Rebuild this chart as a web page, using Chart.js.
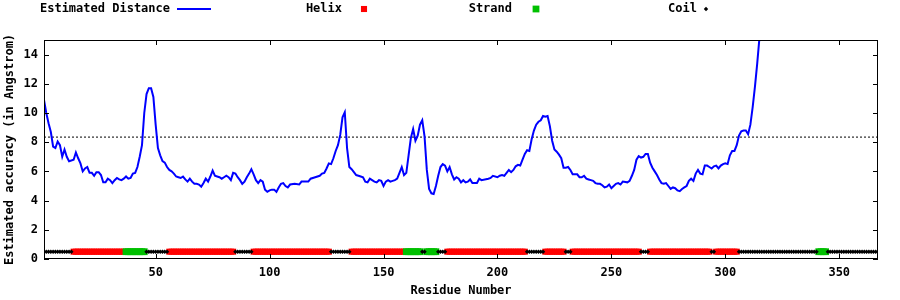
<!DOCTYPE html>
<html>
<head>
<meta charset="utf-8">
<script src="https://cdn.jsdelivr.net/npm/chart.js@4.4.1/dist/chart.umd.min.js"></script>
<style>
  html, body { margin: 0; padding: 0; background: #fff; }
  canvas { display: block; }
</style>
</head>
<body>
<canvas id="accuracyChart" width="900" height="300"></canvas>
<script>
// estimated distance per residue
const residues = [
  1, 2, 3, 4, 5, 6, 7, 8, 9, 10, 11, 12, 14, 15, 16, 17, 18, 19, 20, 21, 22, 23, 24, 25, 26, 27, 28, 29, 30,
  31, 32, 33, 34, 35, 36, 37, 38, 39, 40, 41, 42, 43, 44, 45, 46, 47, 48, 49, 50, 51, 52, 53, 54, 55, 56, 57, 58, 59, 60,
  61, 62, 63, 64, 65, 66, 67, 68, 69, 70, 71, 72, 73, 74, 75, 76, 77, 78, 79, 80, 81, 82, 83, 84, 85, 86, 87, 88, 89, 90,
  91, 92, 93, 94, 95, 96, 97, 98, 99, 100, 101, 102, 103, 104, 105, 106, 107, 108, 109, 111, 113, 114, 117, 118, 120,
  122, 123, 124, 125, 126, 127, 128, 129, 130, 131, 132, 133, 134, 135, 136, 137, 138, 139, 140, 141, 142, 143, 144, 145,
  146, 147, 148, 149, 150, 151, 152, 153, 154, 155, 156, 157, 158, 159, 160, 161, 162, 163, 164, 165, 166, 167, 168, 169,
  170, 171, 172, 173, 174, 175, 176, 177, 178, 179, 180, 181, 182, 183, 184, 185, 186, 187, 188, 189, 191, 192, 193, 196,
  197, 198, 200, 201, 202, 203, 204, 205, 206, 207, 208, 209, 210, 211, 212, 213, 214, 215, 216, 217, 218, 219, 220, 221,
  222, 223, 224, 225, 226, 227, 228, 229, 230, 231, 232, 233, 234, 235, 236, 237, 238, 239, 240, 241, 242, 243, 244, 245,
  246, 247, 248, 249, 250, 251, 252, 253, 254, 255, 257, 258, 259, 260, 261, 262, 263, 264, 265, 266, 267, 268, 269, 270,
  271, 272, 273, 274, 275, 276, 277, 278, 279, 280, 281, 282, 283, 284, 285, 286, 287, 288, 289, 290, 291, 292, 293, 294,
  295, 296, 297, 298, 299, 300, 301, 302, 303, 304, 305, 306, 307, 308, 309, 310, 311, 312, 313, 314, 315, 316
];
const estDistance = [
  10.9, 10.0, 9.3, 8.7, 7.7, 7.6, 8.05, 7.8, 7.0, 7.5, 7.0, 6.7, 6.8, 7.3, 6.9, 6.55, 6.0, 6.2, 6.3, 5.9, 5.9, 5.7, 5.95, 5.95, 5.75, 5.25, 5.25, 5.5, 5.4,
  5.2, 5.4, 5.55, 5.45, 5.4, 5.5, 5.65, 5.5, 5.55, 5.85, 5.9, 6.3, 7.0, 7.8, 10.0, 11.3, 11.7, 11.7, 11.1, 9.2, 7.6, 7.1, 6.7, 6.6, 6.3, 6.1, 6.0, 5.85, 5.65, 5.6,
  5.55, 5.65, 5.45, 5.3, 5.5, 5.3, 5.15, 5.15, 5.1, 4.95, 5.2, 5.5, 5.3, 5.65, 6.05, 5.7, 5.65, 5.6, 5.5, 5.6, 5.7, 5.6, 5.4, 5.9, 5.85, 5.6, 5.4, 5.15, 5.3, 5.6,
  5.85, 6.15, 5.8, 5.4, 5.2, 5.4, 5.3, 4.75, 4.6, 4.7, 4.75, 4.75, 4.6, 4.9, 5.15, 5.2, 5.0, 4.9, 5.1, 5.15, 5.1, 5.3, 5.3, 5.5, 5.6,
  5.7, 5.85, 5.9, 6.2, 6.55, 6.5, 6.9, 7.4, 7.8, 8.5, 9.7, 10.05, 7.6, 6.3, 6.15, 5.95, 5.75, 5.7, 5.65, 5.6, 5.3, 5.25, 5.5, 5.4,
  5.3, 5.25, 5.4, 5.35, 5.0, 5.3, 5.4, 5.3, 5.35, 5.4, 5.5, 5.9, 6.3, 5.75, 5.9, 7.1, 8.3, 8.9, 8.1, 8.45, 9.2, 9.5, 8.4, 6.1,
  4.8, 4.5, 4.45, 5.0, 5.7, 6.3, 6.5, 6.4, 6.0, 6.3, 5.8, 5.45, 5.6, 5.5, 5.25, 5.4, 5.25, 5.3, 5.45, 5.2, 5.2, 5.5, 5.4, 5.5,
  5.55, 5.7, 5.6, 5.7, 5.75, 5.7, 5.9, 6.1, 5.95, 6.1, 6.35, 6.45, 6.4, 6.8, 7.2, 7.45, 7.4, 8.2, 8.8, 9.2, 9.4, 9.5, 9.8, 9.75,
  9.8, 9.1, 8.1, 7.5, 7.35, 7.15, 6.9, 6.25, 6.25, 6.3, 6.1, 5.8, 5.8, 5.8, 5.6, 5.6, 5.7, 5.5, 5.45, 5.4, 5.35, 5.2, 5.15, 5.15,
  5.05, 4.9, 4.95, 5.1, 4.85, 5.0, 5.15, 5.2, 5.1, 5.3, 5.25, 5.35, 5.7, 6.1, 6.8, 7.05, 6.95, 7.0, 7.2, 7.2, 6.6, 6.25, 6.0, 5.75,
  5.45, 5.2, 5.15, 5.2, 5.0, 4.8, 4.9, 4.85, 4.7, 4.65, 4.8, 4.9, 5.0, 5.35, 5.5, 5.35, 5.85, 6.1, 5.85, 5.8, 6.4, 6.4, 6.3, 6.2,
  6.35, 6.4, 6.2, 6.4, 6.5, 6.55, 6.5, 7.1, 7.4, 7.4, 7.8, 8.45, 8.75, 8.8, 8.8, 8.55, 9.2, 10.4, 11.8, 13.4, 15.2, 17.5
];
const cutoff = 8.35;

// secondary structure segments [first, last] residue
const helix = [[14, 36], [56, 84], [93, 126], [136, 159], [178, 212], [221, 229], [233, 262], [267, 293], [296, 305]];
const strand = [[37, 45], [160, 166], [169, 173], [341, 344]];
const coil = [[1, 13], [46, 55], [85, 92], [127, 135], [167, 168], [174, 177], [213, 220], [230, 232], [263, 266], [294, 295], [306, 340], [345, 367]];
const ssLevel = 0.5;

const xRange = [1, 367];
const yRange = [0, 15];
const xTicks = [50, 100, 150, 200, 250, 300, 350];
const yTicks = [0, 2, 4, 6, 8, 10, 12, 14];

const toPoints = ranges => ranges.flatMap(([a, b]) =>
  Array.from({ length: b - a + 1 }, (_, i) => ({ x: a + i, y: ssLevel })));

Chart.defaults.font.family = '"DejaVu Sans Mono", "Liberation Mono", monospace';
Chart.defaults.font.size = 12;
Chart.defaults.font.weight = 'bold';
Chart.defaults.color = '#000';

const TICK = 5;

// gnuplot-like border with inward ticks on all four sides
const framePlugin = {
  id: 'frame',
  afterDatasetsDraw(chart) {
    const { ctx, chartArea: a, scales: { x, y } } = chart;
    ctx.save();
    ctx.strokeStyle = '#000';
    ctx.lineWidth = 1;
    ctx.strokeRect(a.left + 0.5, a.top + 0.5, a.right - a.left - 1, a.bottom - a.top - 1);
    ctx.beginPath();
    x.ticks.forEach(t => {
      const px = Math.round(x.getPixelForValue(t.value)) + 0.5;
      ctx.moveTo(px, a.bottom); ctx.lineTo(px, a.bottom - TICK);
      ctx.moveTo(px, a.top); ctx.lineTo(px, a.top + TICK);
    });
    y.ticks.forEach(t => {
      const py = Math.round(y.getPixelForValue(t.value)) + 0.5;
      ctx.moveTo(a.left, py); ctx.lineTo(a.left + TICK, py);
      ctx.moveTo(a.right, py); ctx.lineTo(a.right - TICK, py);
    });
    ctx.stroke();
    ctx.restore();
  }
};

// key along the top: text first, then the sample
const keySpots = [
  { right: 170, sample: 194 },
  { right: 342, sample: 364 },
  { right: 512, sample: 536 },
  { right: 697, sample: 706 }
];
const keyPlugin = {
  id: 'gnuKey',
  afterDraw(chart) {
    const ctx = chart.ctx;
    const yMid = 9;
    ctx.save();
    ctx.font = 'bold 12px "DejaVu Sans Mono", monospace';
    ctx.fillStyle = '#000';
    ctx.textAlign = 'right';
    ctx.textBaseline = 'middle';
    chart.data.datasets.forEach((ds, i) => {
      const spot = keySpots[i];
      if (!spot) return;
      ctx.fillStyle = '#000';
      ctx.fillText(ds.label, spot.right, yMid);
      if (ds.showLine) {
        ctx.strokeStyle = ds.borderColor;
        ctx.lineWidth = ds.borderWidth;
        ctx.beginPath();
        ctx.moveTo(spot.sample - 17, yMid);
        ctx.lineTo(spot.sample + 17, yMid);
        ctx.stroke();
      } else {
        ctx.fillStyle = ds.pointBackgroundColor;
        Chart.helpers.drawPoint(ctx, {
          pointStyle: ds.pointStyle, radius: ds.pointRadius, rotation: 0, borderWidth: 0
        }, spot.sample, yMid);
      }
    });
    ctx.restore();
  }
};

new Chart(document.getElementById('accuracyChart'), {
  type: 'scatter',
  data: {
    datasets: [
      {
        label: 'Estimated Distance',
        data: residues.map((r, i) => ({ x: r, y: estDistance[i] })),
        showLine: true,
        borderColor: '#0000ff',
        borderWidth: 2,
        pointRadius: 0,
        tension: 0,
        order: 0
      },
      {
        label: 'Helix',
        data: toPoints(helix),
        showLine: false,
        pointStyle: 'rect',
        pointRadius: 4.3,
        pointBackgroundColor: '#ff0000',
        pointBorderWidth: 0,
        order: 3
      },
      {
        label: 'Strand',
        data: toPoints(strand),
        showLine: false,
        pointStyle: 'rect',
        pointRadius: 4.8,
        pointBackgroundColor: '#00c000',
        pointBorderWidth: 0,
        order: 2
      },
      {
        label: 'Coil',
        data: toPoints(coil),
        showLine: false,
        pointStyle: 'rectRot',
        pointRadius: 2.2,
        pointBackgroundColor: '#000000',
        pointBorderWidth: 0,
        order: 1
      },
      {
        label: 'cutoff',
        data: [{ x: xRange[0], y: cutoff }, { x: xRange[1], y: cutoff }],
        showLine: true,
        borderColor: '#000',
        borderWidth: 1,
        borderDash: [2, 2],
        pointRadius: 0,
        order: 4
      }
    ]
  },
  options: {
    responsive: false,
    animation: false,
    devicePixelRatio: 1,
    layout: { padding: { top: 40, right: 22, left: 0, bottom: 0 } },
    plugins: { legend: { display: false }, tooltip: { enabled: false } },
    scales: {
      x: {
        type: 'linear',
        min: xRange[0],
        max: xRange[1],
        grid: { display: false, drawTicks: false },
        border: { display: false },
        afterBuildTicks: s => { s.ticks = xTicks.map(v => ({ value: v })); },
        afterFit: s => { s.height = 41; },
        ticks: { padding: 7, maxRotation: 0, autoSkip: false },
        title: { display: true, text: 'Residue Number', padding: { top: 0, bottom: 2 } }
      },
      y: {
        min: yRange[0],
        max: yRange[1],
        grid: { display: false, drawTicks: false },
        border: { display: false },
        afterBuildTicks: s => { s.ticks = yTicks.map(v => ({ value: v })); },
        afterFit: s => { s.width = 44; },
        ticks: { padding: 6, autoSkip: false },
        title: { display: true, text: 'Estimated accuracy (in Angstrom)', padding: { top: 3, bottom: 0 } }
      }
    }
  },
  plugins: [framePlugin, keyPlugin]
});
</script>
</body>
</html>
